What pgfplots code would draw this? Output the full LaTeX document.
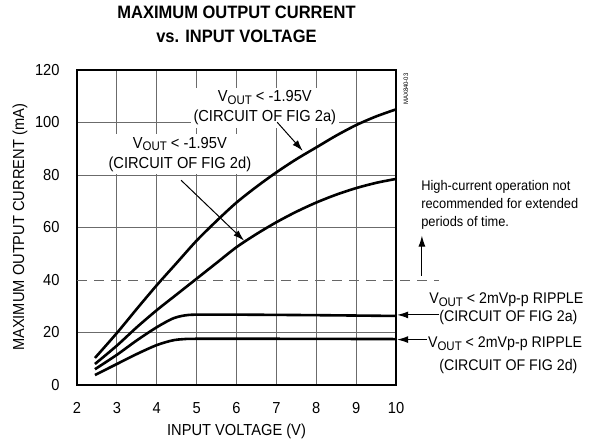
\documentclass[border=0pt]{standalone}
\usepackage{fontspec}
\setmainfont{Liberation Sans}[FakeStretch=0.92]
\usepackage{pgfplots}
\pgfplotsset{compat=1.18}
\usetikzlibrary{arrows.meta}
\newcommand\vout{V\raisebox{-0.3ex}{\fontsize{12.5}{12.5}\selectfont OUT}}
\begin{document}
\begin{tikzpicture}[x=1bp,y=1bp]
\useasboundingbox (0,0) rectangle (596,444);
\begin{axis}[
  at={(77bp,59bp)}, anchor=south west, scale only axis,
  width=319bp, height=315bp,
  xmin=2, xmax=10, ymin=0, ymax=120,
  xtick={2,3,...,10}, ytick={0,20,60,80,100,120},
  extra y ticks={40}, extra y tick style={grid=none},
  grid=major, major grid style={black!58, line width=0.9bp},
  major tick length=0pt,
  axis line style={line width=2.4bp},
  tick label style={font=\fontsize{16}{16}\selectfont},
  xticklabel style={yshift=-14bp},
  yticklabel style={xshift=-14bp},
  /pgf/number format/assume math mode=true,
  clip=false,
  xlabel={INPUT VOLTAGE (V)},
  xlabel style={at={(axis description cs:0.5,-0.1465)}, anchor=center, font=\fontsize{16}{16}\selectfont},
  ylabel={MAXIMUM OUTPUT CURRENT (mA)},
  ylabel style={at={(axis description cs:-0.1787,0.5)}, anchor=center, font=\fontsize{16}{16}\selectfont},
  title={MAXIMUM OUTPUT CURRENT\\vs. INPUT VOLTAGE},
  title style={at={(axis description cs:0.5,1.126)}, anchor=center, align=center, font=\bfseries\fontsize{18}{24}\selectfont},
]
% Fig 2a, VOUT < -1.95V
\addplot[black, line width=2.6bp, smooth] coordinates {
(2.45,10.3) (3,19.8) (3.5,29) (4,38) (4.5,46.5) (5,55) (5.5,62.5) (6,69.5) (6.5,75.5) (7,81) (7.5,86) (8,90.5) (8.5,95) (9,99) (9.5,102.3) (10,105)};
% Fig 2d, VOUT < -1.95V
\addplot[black, line width=2.6bp, smooth] coordinates {
(2.45,8) (3,15) (3.5,22) (4,28.5) (4.5,34.5) (5,40.5) (5.5,46.5) (6,52.5) (6.5,57.5) (7,62) (7.5,66) (8,69.5) (8.5,72.5) (9,75) (9.5,77) (10,78.5)};
% Fig 2a ripple
\addplot[black, line width=2.6bp, smooth] coordinates {
(2.45,6) (3,11.5) (3.5,17) (4,22) (4.4,25.3) (4.7,26.5) (5,26.8) (6,26.8) (8,26.6) (10,26.3)};
% Fig 2d ripple
\addplot[black, line width=2.6bp, smooth] coordinates {
(2.45,3.8) (3,8) (3.5,11.8) (4,15.2) (4.4,17) (4.7,17.5) (5,17.6) (7,17.6) (10,17.5)};

\draw[dashed, dash pattern=on 10bp off 7bp, black!60, line width=0.9bp] (axis cs:2,40) -- (axis cs:11.08,40);

\node[fill=white, align=center, inner sep=3bp, font=\fontsize{16}{20}\selectfont] at (axis cs:6.71,105.6) {\vout{} < -1.95V\\(CIRCUIT OF FIG 2a)};
\node[fill=white, align=center, inner sep=3bp, font=\fontsize{16}{20}\selectfont] at (axis cs:4.58,87.9) {\vout{} < -1.95V\\(CIRCUIT OF FIG 2d)};
\draw[line width=1bp, -{Latex[length=11bp,width=7bp]}] (axis cs:7.02,100.1) -- (axis cs:7.66,89.2);
\draw[line width=1bp, -{Latex[length=11bp,width=7bp]}] (axis cs:4.61,78) -- (axis cs:6.19,55);

\node[anchor=base west, align=left, inner sep=0pt, font=\fontsize{14}{18}\selectfont] at (axis cs:10.63,60.4) {High-current operation not\\recommended for extended\\periods of time.};
\draw[line width=1bp, -{Latex[length=11bp,width=7bp]}] (axis cs:10.65,41.7) -- (axis cs:10.65,56.9);

\node[anchor=base west, inner sep=0pt, font=\fontsize{15.5}{15.5}\selectfont] at (axis cs:10.83,31.0) {\vout{} < 2mVp-p RIPPLE};
\node[anchor=base west, inner sep=0pt, font=\fontsize{15.5}{15.5}\selectfont] at (axis cs:11.08,24.1) {(CIRCUIT OF FIG 2a)};
\node[anchor=base west, inner sep=0pt, font=\fontsize{15.5}{15.5}\selectfont] at (axis cs:10.80,14.1) {\vout{} < 2mVp-p RIPPLE};
\node[anchor=base west, inner sep=0pt, font=\fontsize{15.5}{15.5}\selectfont] at (axis cs:11.08,5.7) {(CIRCUIT OF FIG 2d)};
\draw[line width=1bp, -{Latex[length=11bp,width=7bp]}] (axis cs:11.08,26.7) -- (axis cs:10.03,26.7);
\draw[line width=1bp, -{Latex[length=11bp,width=7bp]}] (axis cs:10.78,17.3) -- (axis cs:10.03,17.3);

\node[rotate=90, inner sep=0pt, font=\fontsize{6.5}{6.5}\selectfont] at (axis cs:10.25,112.7) {MAX840-03};
\end{axis}
\end{tikzpicture}
\end{document}
